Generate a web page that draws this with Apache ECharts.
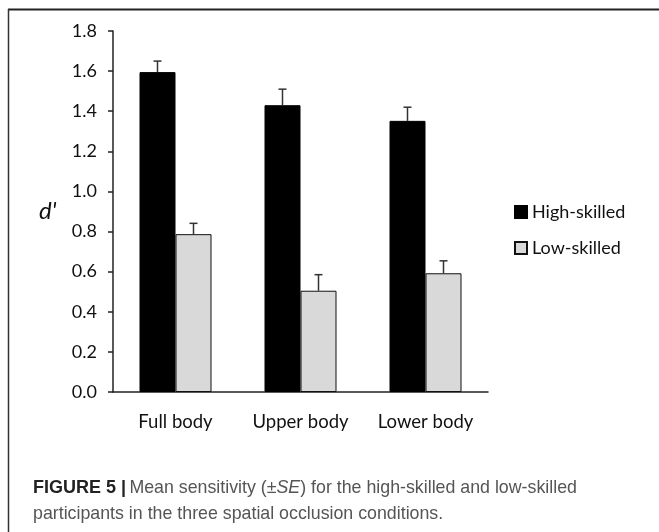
<!DOCTYPE html>
<html>
<head>
<meta charset="utf-8">
<script src="https://cdn.jsdelivr.net/npm/echarts@6/dist/echarts.min.js"></script>
<style>
  html, body { margin: 0; padding: 0; background: #fff; }
  #chart { width: 659px; height: 532px; }
</style>
</head>
<body>
<div id="chart"></div>
<script>
// data
const conditions = ['Full body', 'Upper body', 'Lower body'];
const highMeans = [1.595, 1.43, 1.352];
const highSE = [0.055, 0.08, 0.068];
const lowMeans = [0.787, 0.505, 0.592];
const lowSE = [0.054, 0.08, 0.062];
const yTicks = [0, 0.2, 0.4, 0.6, 0.8, 1.0, 1.2, 1.4, 1.6, 1.8];

const barW = 36;
const chart = echarts.init(document.getElementById('chart'));

// upward-only error bars with a small cap, shifted onto their bar
function errorBars(means, ses, shift) {
  return {
    type: 'custom',
    silent: true,
    z: 1,
    data: means.map((m, i) => [i, m, m + ses[i]]),
    renderItem(params, api) {
      const base = api.coord([api.value(0), api.value(1)]);
      const top = api.coord([api.value(0), api.value(2)]);
      const x = base[0] + shift;
      const style = { stroke: '#333', lineWidth: 1.5 };
      return {
        type: 'group',
        children: [
          { type: 'line', shape: { x1: x, y1: base[1], x2: x, y2: top[1] }, style },
          { type: 'line', shape: { x1: x - 4, y1: top[1], x2: x + 4, y2: top[1] }, style }
        ]
      };
    }
  };
}

const option = {
  animation: false,
  textStyle: { fontFamily: 'Lato' },
  grid: { left: 113, right: 171, top: 31, bottom: 140 },
  legend: {
    orient: 'vertical',
    left: 509,
    top: 198,
    itemWidth: 12,
    itemHeight: 12,
    itemGap: 18,
    icon: 'rect',
    data: ['High-skilled', 'Low-skilled'],
    textStyle: { fontFamily: 'Lato', fontSize: 18, color: '#111' }
  },
  xAxis: {
    type: 'category',
    data: conditions,
    axisLine: { lineStyle: { color: '#222', width: 1.5 } },
    axisTick: { length: 5, lineStyle: { color: '#222', width: 1.5 } },
    axisLabel: { interval: 0, hideOverlap: false, margin: 21, fontSize: 18.5, color: '#111', fontFamily: 'Lato' }
  },
  yAxis: {
    type: 'value',
    min: 0,
    max: 1.8,
    interval: 0.2,
    splitLine: { show: false },
    axisLine: { show: true, lineStyle: { color: '#222', width: 1.5 } },
    axisTick: { show: true, length: 5, lineStyle: { color: '#222', width: 1.5 } },
    axisLabel: {
      margin: 16,
      fontSize: 18,
      color: '#111',
      fontFamily: 'Lato',
      formatter: v => yTicks.includes(Math.round(v * 10) / 10) ? v.toFixed(1) : ''
    }
  },
  series: [
    {
      name: 'High-skilled',
      type: 'bar',
      data: highMeans,
      barWidth: barW,
      barGap: '0%',
      z: 2,
      itemStyle: { color: '#000', borderColor: '#000', borderWidth: 1 }
    },
    {
      name: 'Low-skilled',
      type: 'bar',
      data: lowMeans,
      barWidth: barW,
      z: 2,
      itemStyle: { color: '#d9d9d9', borderColor: '#111', borderWidth: 1 }
    },
    errorBars(highMeans, highSE, -barW / 2),
    errorBars(lowMeans, lowSE, barW / 2)
  ],
  graphic: [
    // figure frame (top and left edges)
    { type: 'line', shape: { x1: 8, y1: 9.5, x2: 659, y2: 9.5 }, style: { stroke: '#222', lineWidth: 2 } },
    { type: 'line', shape: { x1: 8.5, y1: 9, x2: 8.5, y2: 532 }, style: { stroke: '#333', lineWidth: 1.5 } },
    {
      type: 'text',
      left: 39,
      top: 199,
      style: { text: "d'", font: 'italic 24px Lato', fill: '#111' }
    },
    {
      type: 'text',
      left: 33,
      top: 479,
      style: {
        text: '{b|FIGURE 5 |} {n|Mean sensitivity (±}{i|SE}{n|) for the high-skilled and low-skilled}\n{n|participants in the three spatial occlusion conditions.}',
        rich: {
          b: { font: 'bold 18px "Liberation Sans"', fill: '#222', lineHeight: 26 },
          n: { font: '17.8px "Liberation Sans"', fill: '#555', lineHeight: 26 },
          i: { font: 'italic 17.8px "Liberation Sans"', fill: '#555', lineHeight: 26 }
        }
      }
    }
  ]
};

chart.setOption(option);
</script>
</body>
</html>
